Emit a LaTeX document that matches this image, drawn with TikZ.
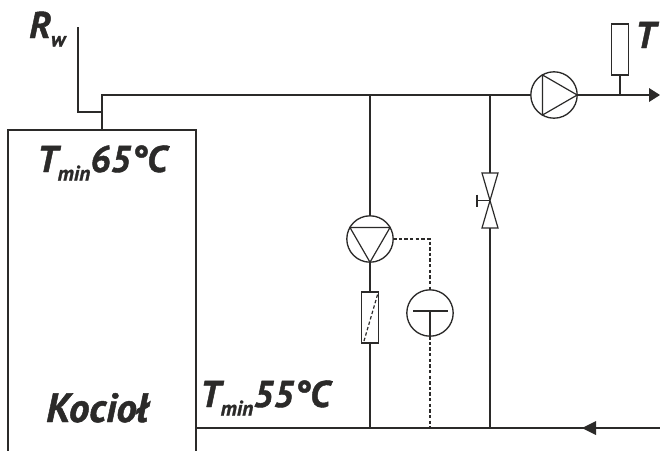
\documentclass[tikz,border=0pt]{standalone}
\usepackage{fontspec}
\setmainfont{PT Sans}[BoldItalicFeatures={FakeBold=1.2}]
\definecolor{ink}{HTML}{2B2A29}
\newcommand{\lowtext}[1]{\raisebox{-0.23em}{\fontsize{15}{15}\selectfont #1}}
\tikzset{
    pipe/.style={ink, line width=0.85pt},
    signal/.style={ink, line width=0.85pt, dash pattern=on 2.4pt off 1.6pt},
    pump/.style={circle, draw=ink, line width=0.95pt, inner sep=0pt, outer sep=0pt, minimum size=11.6mm},
    filterbox/.style={rectangle, draw=ink, line width=1.1pt, inner sep=0pt, outer sep=0pt, minimum width=4.2mm, minimum height=12.8mm},
    label/.style={anchor=base west, inner sep=0pt, text=ink, font=\fontsize{26.5}{26.5}\selectfont\bfseries\itshape},
    bigtip/.style={ink, fill=ink, draw=none}
}
\begin{document}
\begin{tikzpicture}[x=0.25mm, y=-0.25mm]

        \useasboundingbox (0,0) rectangle (660,451);

        \coordinate (boilerBL) at (8,451);
        \coordinate (boilerTL) at (8,130);
        \coordinate (boilerTR) at (196,130);
        \coordinate (boilerBR) at (196,451);
        \coordinate (riser) at (102,130);
        \coordinate (corner) at (102,95);
        \coordinate (rwTop) at (78,27);
        \coordinate (rwLow) at (78,112);
        \coordinate (rwEnd) at (102,112);
        \coordinate (teeA) at (370,95);
        \coordinate (teeB) at (490,95);
        \coordinate (teeC) at (620,95);
        \coordinate (outEnd) at (650,95);
        \coordinate (outTip) at (660,95);
        \coordinate (backA) at (370,428);
        \coordinate (backB) at (430,428);
        \coordinate (backC) at (490,428);
        \coordinate (backStart) at (196,428);
        \coordinate (backEnd) at (660,428);
        \coordinate (backTip) at (582,428);
        \coordinate (signalBend) at (430,239);
        \coordinate (valveTop) at (490,173);
        \coordinate (valveMid) at (490,200.5);
        \coordinate (valveLow) at (490,228);
        \coordinate (handle) at (477,200.5);

        \node[pump] (pumpA) at (554,95) {};
        \node[pump] (pumpB) at (370,239) {};
        \node[pump] (controller) at (430,313) {};
        \node[filterbox] (filter) at (370,317.5) {};
        \node[filterbox] (sensor) at (620,49.5) {};

        % boiler
        \draw[pipe, line width=0.95pt]
            (boilerBL) -- (boilerTL) -- (boilerTR) -- (boilerBR);

        % supply
        \draw[pipe]
            (rwTop) -- (rwLow) -- (rwEnd);
        \draw[pipe]
            (riser) -- (corner) -- (pumpA.west);
        \draw[pipe]
            (pumpA.east) -- (outEnd);
        \draw[pipe]
            (sensor.south) -- (teeC);
        \fill[bigtip]
            (outTip) -- (649,88) -- (649,102) -- cycle;

        % return
        \draw[pipe]
            (backStart) -- (backEnd);
        \draw[ink, line width=1.3pt]
            (595,428) -- (650,428);
        \fill[bigtip]
            (backTip) -- (596,421) -- (596,435) -- cycle;

        % branch with pump
        \draw[pipe]
            (teeA) -- (pumpB.north);
        \draw[pipe]
            (pumpB.south) -- (filter.north);
        \draw[pipe]
            (filter.south) -- (backA);
        \draw[signal]
            (364,341) -- (378,293);

        % bypass
        \draw[pipe]
            (teeB) -- (valveTop);
        \draw[pipe]
            (valveLow) -- (backC);
        \draw[pipe]
            (482,173) -- (498,173) -- (482,228) -- (498,228) -- cycle;
        \draw[pipe]
            (valveMid) -- (handle);
        \draw[pipe, line width=1.1pt]
            (477,194.5) -- (477,207);

        % pump symbols
        \draw[pipe]
            (pumpA.120) -- (pumpA.0) -- (pumpA.240) -- cycle;
        \draw[pipe]
            (pumpB.150) -- (pumpB.30) -- (pumpB.270) -- cycle;

        % controller
        \draw[pipe]
            (413,311) -- (448,311)
            (430,311) -- (controller.south);
        \draw[signal]
            (pumpB.east) -- (signalBend) -- (controller.north);
        \draw[signal]
            (controller.south) -- (backB);

        % labels
        \node[label] (rwLabel) at (29,38) {R\lowtext{w}};
        \node[label] (tLabel) at (635,48) {T};
        \node[label] (tminHigh) at (37,172) {T\lowtext{min}65°C};
        \node[label] (tminLow) at (200,407) {T\lowtext{min}55°C};
        \node[label, font=\fontsize{29}{29}\selectfont\bfseries\itshape] (boilerLabel) at (46,422) {Kocioł};

\end{tikzpicture}
\end{document}
